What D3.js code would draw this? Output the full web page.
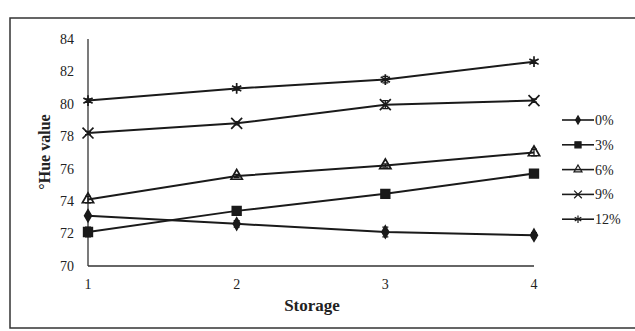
<!DOCTYPE html>
<html>
<head>
<meta charset="utf-8">
<script src="https://cdn.jsdelivr.net/npm/d3@7"></script>
<style>
  body { margin: 0; background: #fff; }
  text { font-family: "Liberation Serif", "DejaVu Serif", serif; fill: #222; }
</style>
</head>
<body>
<div id="chart"></div>
<script>
// Data
var storage = [1, 2, 3, 4];
var seriesNames = ["0%", "3%", "6%", "9%", "12%"];
var hue0 = [73.1, 72.6, 72.1, 71.9];
var hue3 = [72.1, 73.4, 74.45, 75.7];
var hue6 = [74.1, 75.55, 76.2, 77.0];
var hue9 = [78.2, 78.8, 79.95, 80.2];
var hue12 = [80.2, 80.95, 81.5, 82.6];
var err0 = [0.1, 0.2, 0.3, 0.15];
var err3 = [0.3, 0.15, 0.1, 0.15];
var err6 = [0.2, 0.1, 0.1, 0.2];
var err9 = [0.1, 0.1, 0.25, 0.1];
var err12 = [0.1, 0.1, 0.2, 0.1];
var yTicks = [70, 72, 74, 76, 78, 80, 82, 84];

var series = [
  { name: seriesNames[0], values: hue0, errors: err0, symbol: d3.symbolDiamond, size: 40, fill: true },
  { name: seriesNames[1], values: hue3, errors: err3, symbol: d3.symbolSquare, size: 75, fill: true },
  { name: seriesNames[2], values: hue6, errors: err6, symbol: d3.symbolTriangle, size: 55, fill: false },
  { name: seriesNames[3], values: hue9, errors: err9, symbol: d3.symbolX, size: 80, fill: false },
  { name: seriesNames[4], values: hue12, errors: err12, symbol: d3.symbolAsterisk, size: 80, fill: false }
];

var width = 635, height = 331;
var svg = d3.select("#chart").append("svg")
    .attr("width", width)
    .attr("height", height);

// outer frame
svg.append("rect")
    .attr("x", 10).attr("y", 18)
    .attr("width", 640).attr("height", 310)
    .attr("fill", "none")
    .attr("stroke", "#333")
    .attr("stroke-width", 1.5);

var x = d3.scaleLinear().domain([1, 4]).range([88, 534]);
var y = d3.scaleLinear().domain([70, 84]).range([266, 39]);

// axes lines
svg.append("line")
    .attr("x1", x(1)).attr("x2", x(1))
    .attr("y1", y(84)).attr("y2", y(70))
    .attr("stroke", "#333").attr("stroke-width", 1.3);
svg.append("line")
    .attr("x1", x(1)).attr("x2", x(4))
    .attr("y1", y(70)).attr("y2", y(70))
    .attr("stroke", "#333").attr("stroke-width", 1.6);

// y tick labels
svg.selectAll(".ytick")
    .data(yTicks)
  .enter().append("text")
    .attr("class", "ytick")
    .attr("x", 74)
    .attr("y", function(d) { return y(d); })
    .attr("dy", "0.35em")
    .style("text-anchor", "end")
    .style("font-size", "14px")
    .text(function(d) { return d; });

// x tick labels
svg.selectAll(".xtick")
    .data(storage)
  .enter().append("text")
    .attr("class", "xtick")
    .attr("x", function(d) { return x(d); })
    .attr("y", 289)
    .style("text-anchor", "middle")
    .style("font-size", "14px")
    .text(function(d) { return d; });

// axis titles
svg.append("text")
    .attr("x", 312)
    .attr("y", 311)
    .style("text-anchor", "middle")
    .style("font-size", "17px")
    .style("font-weight", "bold")
    .text("Storage");

svg.append("text")
    .attr("transform", "translate(50,152) rotate(-90)")
    .style("text-anchor", "middle")
    .style("font-size", "16px")
    .style("font-weight", "bold")
    .text("°Hue value");

var line = d3.line()
    .x(function(d, i) { return x(storage[i]); })
    .y(function(d) { return y(d); });

series.forEach(function(s) {
  var g = svg.append("g");
  g.append("path")
      .datum(s.values)
      .attr("d", line)
      .attr("fill", "none")
      .attr("stroke", "#1a1a1a")
      .attr("stroke-width", 2);

  // error bars
  g.selectAll(".err")
      .data(s.values)
    .enter().append("path")
      .attr("class", "err")
      .attr("d", function(d, i) {
        var cx = x(storage[i]), y1 = y(d + s.errors[i]), y2 = y(d - s.errors[i]);
        return "M" + (cx - 3) + "," + y1 + "H" + (cx + 3) +
               "M" + cx + "," + y1 + "V" + y2 +
               "M" + (cx - 3) + "," + y2 + "H" + (cx + 3);
      })
      .attr("stroke", "#1a1a1a")
      .attr("stroke-width", 1.3)
      .attr("fill", "none");

  g.selectAll(".mark")
      .data(s.values)
    .enter().append("path")
      .attr("class", "mark")
      .attr("transform", function(d, i) { return "translate(" + x(storage[i]) + "," + y(d) + ")"; })
      .attr("d", d3.symbol().type(s.symbol).size(s.size))
      .attr("fill", s.fill ? "#1a1a1a" : "none")
      .attr("stroke", "#1a1a1a")
      .attr("stroke-width", 1.7);
});

// legend
var legend = svg.selectAll(".legend")
    .data(series)
  .enter().append("g")
    .attr("class", "legend")
    .attr("transform", function(d, i) { return "translate(562," + (120 + i * 24.8) + ")"; });

legend.append("line")
    .attr("x1", 0).attr("x2", 32)
    .attr("stroke", "#1a1a1a")
    .attr("stroke-width", 1.6);

legend.append("path")
    .attr("transform", "translate(16,0)")
    .attr("d", function(d) { return d3.symbol().type(d.symbol).size(d.size * 0.5)(); })
    .attr("fill", function(d) { return d.fill ? "#1a1a1a" : "none"; })
    .attr("stroke", "#1a1a1a")
    .attr("stroke-width", 1.2);

legend.append("text")
    .attr("x", 33)
    .attr("dy", "0.35em")
    .style("font-size", "14px")
    .text(function(d) { return d.name; });
</script>
</body>
</html>
